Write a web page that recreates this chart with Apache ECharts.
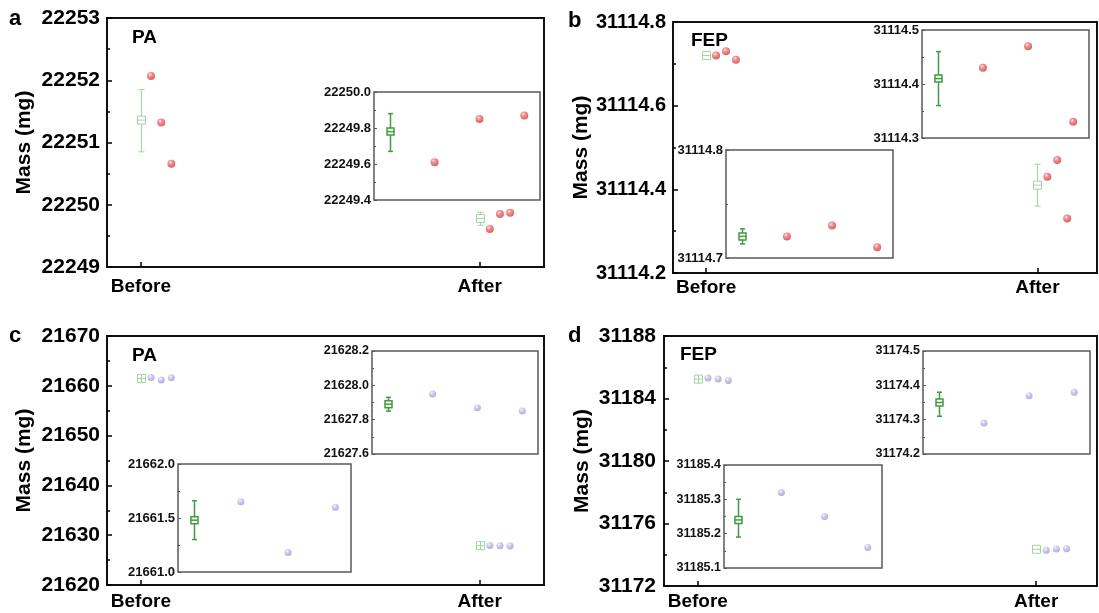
<!DOCTYPE html>
<html>
<head>
<meta charset="utf-8">
<script src="https://cdn.jsdelivr.net/npm/echarts@6/dist/echarts.min.js"></script>
<style>
html,body{margin:0;padding:0;background:#fff;}
#chart{width:1099px;height:613px;}
</style>
</head>
<body>
<div id="chart"></div>
<script>
// ---------------- DATA ----------------
const categories = ['Before', 'After'];

// Panel a : PA, red
const aYTicks = [22249, 22250, 22251, 22252, 22253];
const aBefore = [22252.07, 22251.32, 22250.66];
const aBeforeStat = [22251.36, 22251.85, 22250.85];   // mean, upper, lower
const aAfter = [22249.61, 22249.85, 22249.87];
const aAfterStat = [22249.78, 22249.88, 22249.67];
const aInsetAfterTicks = [22249.4, 22249.6, 22249.8, 22250.0];

// Panel b : FEP, red
const bYTicks = [31114.2, 31114.4, 31114.6, 31114.8];
const bBefore = [31114.72, 31114.73, 31114.71];
const bBeforeStat = [31114.72, 31114.727, 31114.713];
const bAfter = [31114.43, 31114.47, 31114.33];
const bAfterStat = [31114.41, 31114.46, 31114.36];
const bInsetBeforeTicks = [31114.7, 31114.8];
const bInsetAfterTicks = [31114.3, 31114.4, 31114.5];

// Panel c : PA, lavender
const cYTicks = [21620, 21630, 21640, 21650, 21660, 21670];
const cBefore = [21661.65, 21661.18, 21661.60];
const cBeforeStat = [21661.48, 21661.66, 21661.30];
const cAfter = [21627.95, 21627.87, 21627.85];
const cAfterStat = [21627.89, 21627.93, 21627.85];
const cInsetBeforeTicks = [21661.0, 21661.5, 21662.0];
const cInsetAfterTicks = [21627.6, 21627.8, 21628.0, 21628.2];

// Panel d : FEP, lavender
const dYTicks = [31172, 31176, 31180, 31184, 31188];
const dBefore = [31185.32, 31185.25, 31185.16];
const dBeforeStat = [31185.24, 31185.30, 31185.19];
const dAfter = [31174.29, 31174.37, 31174.38];
const dAfterStat = [31174.35, 31174.38, 31174.31];
const dInsetBeforeTicks = [31185.1, 31185.2, 31185.3, 31185.4];
const dInsetAfterTicks = [31174.2, 31174.3, 31174.4, 31174.5];

// ---------------- STYLE / LAYOUT ----------------
const FONT = '"Liberation Sans", Arial, Helvetica, sans-serif';
const dotOffsets = [0.03, 0.06, 0.09];
const RED = {type:'radial', x:0.38, y:0.32, r:0.72, colorStops:[
  {offset:0, color:'#ffe2e2'}, {offset:0.35, color:'#ee7272'}, {offset:1, color:'#cc3a3a'}]};
const LAV = {type:'radial', x:0.38, y:0.32, r:0.72, colorStops:[
  {offset:0, color:'#f6f5fd'}, {offset:0.4, color:'#c3bde5'}, {offset:1, color:'#a097cf'}]};
const mainBox = {size:8, cap:6, color:'#a3d3a3', width:1};
const insetBox = {size:7, cap:5, color:'#3f9c3f', width:1.5};

const grids = [
  // main
  {left:107, top:18, width:437, height:249},
  {left:673, top:22, width:424, height:251},
  {left:107, top:336, width:437, height:249},
  {left:664, top:336, width:433, height:250},
  // insets
  {left:374, top:92, width:166, height:108},   // a after  (4)
  {left:726, top:150, width:167, height:108},  // b before (5)
  {left:922, top:30, width:167, height:108},   // b after  (6)
  {left:178, top:464, width:173, height:108},  // c before (7)
  {left:372, top:351, width:166, height:103},  // c after  (8)
  {left:724, top:465, width:158, height:103},  // d before (9)
  {left:923, top:351, width:167, height:103}   // d after  (10)
];

function step(t){ return Math.round((t[1]-t[0])*1e6)/1e6; }

const xAxes = [], yAxes = [], series = [];

function mainAxes(gi, ticks, xmax, yFont, nameGap, xMargin, yMargin, dec){
  xAxes.push({type:'value', gridIndex:gi, min:0.9, max:xmax,
    axisLine:{show:false, onZero:false}, splitLine:{show:false},
    axisTick:{show:true, inside:true, length:5, customValues:[1,2], lineStyle:{color:'#000', width:1.5}},
    axisLabel:{show:true, customValues:[1,2], margin:xMargin, color:'#000', fontFamily:FONT, fontWeight:'bold', fontSize:19,
      formatter: v => categories[Math.round(v)-1] || ''}
  });
  yAxes.push({type:'value', gridIndex:gi, min:ticks[0], max:ticks[ticks.length-1], interval:step(ticks),
    name:'Mass (mg)', nameLocation:'middle', nameGap:nameGap,
    nameTextStyle:{color:'#000', fontFamily:FONT, fontWeight:'bold', fontSize:21},
    axisLine:{show:false, onZero:false}, splitLine:{show:false}, minorSplitLine:{show:false},
    axisTick:{show:true, inside:true, length:5, lineStyle:{color:'#000', width:1.5}},
    minorTick:{show:true, splitNumber:2, length:3, lineStyle:{color:'#000', width:1.5}},
    axisLabel:{margin:yMargin, color:'#000', fontFamily:FONT, fontWeight:'bold', fontSize:yFont,
      formatter: v => v.toFixed(dec)}
  });
}
function insetAxes(gi, ticks, xmin, xmax, font){
  xAxes.push({type:'value', gridIndex:gi, min:xmin, max:xmax, show:false, axisLine:{onZero:false}});
  yAxes.push({type:'value', gridIndex:gi, min:ticks[0], max:ticks[ticks.length-1], interval:step(ticks),
    axisLine:{show:false, onZero:false}, splitLine:{show:false}, minorSplitLine:{show:false},
    axisTick:{show:true, inside:true, length:3, lineStyle:{color:'#555', width:1}},
    minorTick:{show:true, splitNumber:2, length:2, lineStyle:{color:'#555', width:1}},
    axisLabel:{margin:3, color:'#111', fontFamily:FONT, fontWeight:'bold', fontSize:font,
      formatter: v => v.toFixed(1)}
  });
}

function boxSeries(ai, items, st){
  return {type:'custom', xAxisIndex:ai, yAxisIndex:ai, data:items, encode:{x:0, y:[1,2,3]}, z:3,
    renderItem:(params, api) => {
      const x = api.value(0);
      const pm = api.coord([x, api.value(1)]);
      const yh = api.coord([x, api.value(2)])[1];
      const yl = api.coord([x, api.value(3)])[1];
      const s = st.size/2, c = st.cap/2, cx = Math.round(pm[0]) + 0.5, cy = pm[1];
      const ls = {stroke:st.color, lineWidth:st.width, fill:null};
      const ch = [];
      const L = (x1,y1,x2,y2) => ch.push({type:'line', shape:{x1,y1,x2,y2}, style:ls});
      if (yh < cy - s) { L(cx, yh, cx, cy - s); L(cx - c, yh, cx + c, yh); }
      if (yl > cy + s) { L(cx, cy + s, cx, yl); L(cx - c, yl, cx + c, yl); }
      ch.push({type:'rect', shape:{x:cx - s, y:cy - s, width:2*s, height:2*s},
        style:{stroke:st.color, lineWidth:st.width, fill:'rgba(255,255,255,0)'}});
      L(cx - s, cy, cx + s, cy);
      if (api.value(4)) L(cx, cy - s, cx, cy + s);
      return {type:'group', children:ch};
    }
  };
}
function dotSeries(ai, pts, color, size){
  return {type:'scatter', xAxisIndex:ai, yAxisIndex:ai, data:pts, symbol:'circle', symbolSize:size, z:4,
    itemStyle:{color:color}, emphasis:{disabled:true}};
}
function mainPts(before, after){
  const p = [];
  before.forEach((v,i) => p.push([1 + dotOffsets[i], v]));
  after.forEach((v,i) => p.push([2 + dotOffsets[i], v]));
  return p;
}
function insetPts(vals){ return vals.map((v,i) => [i + 1, v]); }

// main axes (index 0..3)
mainAxes(0, aYTicks, 2.19, 21, 72, 10, 7, 0);
mainAxes(1, bYTicks, 2.18, 20, 81, 5, 7, 1);
mainAxes(2, cYTicks, 2.19, 21, 72, 7, 7, 0);
mainAxes(3, dYTicks, 2.18, 21, 71, 6, 8, 0);
// inset axes (index 4..10)
insetAxes(4, aInsetAfterTicks, -0.35, 3.35, 13);
insetAxes(5, bInsetBeforeTicks, -0.35, 3.35, 13);
insetAxes(6, bInsetAfterTicks, -0.35, 3.35, 13);
insetAxes(7, cInsetBeforeTicks, -0.33, 3.33, 13);
insetAxes(8, cInsetAfterTicks, -0.35, 3.35, 12.5);
insetAxes(9, dInsetBeforeTicks, -0.33, 3.33, 12.5);
insetAxes(10, dInsetAfterTicks, -0.35, 3.35, 12.5);

// main series
series.push(boxSeries(0, [[1, ...aBeforeStat, 0], [2, ...aAfterStat, 0]], mainBox));
series.push(dotSeries(0, mainPts(aBefore, aAfter), RED, 8));
series.push(boxSeries(1, [[1, ...bBeforeStat, 0], [2, ...bAfterStat, 0]], mainBox));
series.push(dotSeries(1, mainPts(bBefore, bAfter), RED, 8));
series.push(boxSeries(2, [[1, ...cBeforeStat, 1], [2, ...cAfterStat, 1]], mainBox));
series.push(dotSeries(2, mainPts(cBefore, cAfter), LAV, 7));
series.push(boxSeries(3, [[1, ...dBeforeStat, 1], [2, ...dAfterStat, 0]], mainBox));
series.push(dotSeries(3, mainPts(dBefore, dAfter), LAV, 7));

// inset series
series.push(boxSeries(4, [[0, ...aAfterStat, 0]], insetBox));
series.push(dotSeries(4, insetPts(aAfter), RED, 8));
series.push(boxSeries(5, [[0, ...bBeforeStat, 0]], insetBox));
series.push(dotSeries(5, insetPts(bBefore), RED, 8));
series.push(boxSeries(6, [[0, ...bAfterStat, 0]], insetBox));
series.push(dotSeries(6, insetPts(bAfter), RED, 8));
series.push(boxSeries(7, [[0, ...cBeforeStat, 0]], insetBox));
series.push(dotSeries(7, insetPts(cBefore), LAV, 7));
series.push(boxSeries(8, [[0, ...cAfterStat, 0]], insetBox));
series.push(dotSeries(8, insetPts(cAfter), LAV, 7));
series.push(boxSeries(9, [[0, ...dBeforeStat, 0]], insetBox));
series.push(dotSeries(9, insetPts(dBefore), LAV, 7));
series.push(boxSeries(10, [[0, ...dAfterStat, 0]], insetBox));
series.push(dotSeries(10, insetPts(dAfter), LAV, 7));

const gridOpts = grids.map((g, i) => Object.assign({}, g, {
  show:true, containLabel:false, backgroundColor:'transparent',
  borderColor: i < 4 ? '#111' : '#5a5a5a', borderWidth: i < 4 ? 2 : 1.5
}));

function txt(x, y, t, size){
  return {type:'text', x:x, y:y, z:10, silent:true,
    style:{text:t, fill:'#000', font:'bold ' + size + 'px ' + FONT, align:'left', verticalAlign:'middle'}};
}

const option = {
  animation:false,
  backgroundColor:'#fff',
  grid:gridOpts,
  xAxis:xAxes,
  yAxis:yAxes,
  series:series,
  graphic:[
    txt(9, 19, 'a', 22), txt(568, 21, 'b', 22), txt(9, 336, 'c', 22), txt(568, 336, 'd', 22),
    txt(132, 38, 'PA', 19), txt(691, 41, 'FEP', 19), txt(132, 356, 'PA', 19), txt(680, 355, 'FEP', 19)
  ]
};

const chart = echarts.init(document.getElementById('chart'), null, {renderer:'canvas'});
chart.setOption(option);
</script>
</body>
</html>
